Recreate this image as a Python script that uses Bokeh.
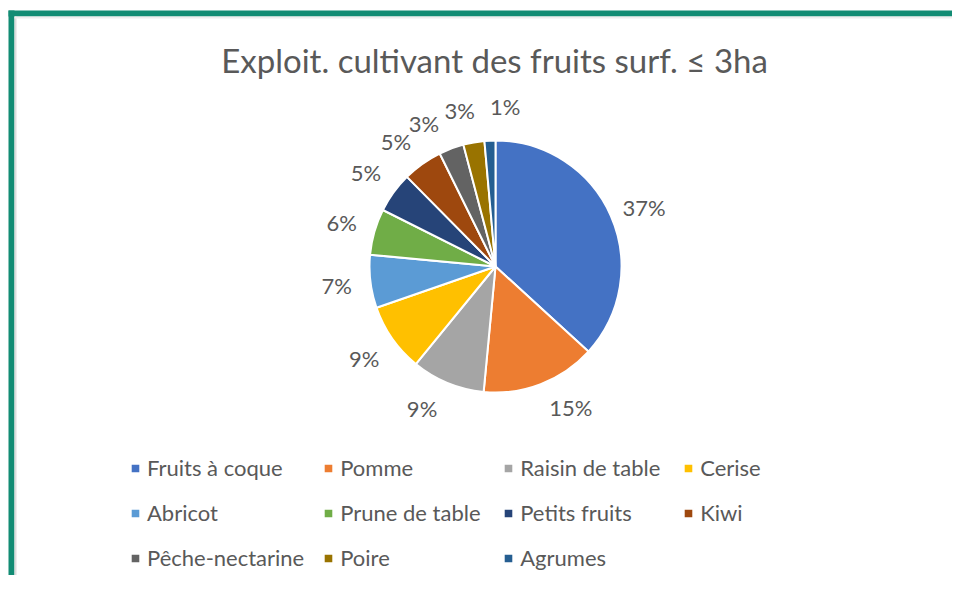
import math
from bokeh.plotting import figure
from bokeh.models import ColumnDataSource, Range1d, Legend, LegendItem, Label, BoxAnnotation
from bokeh.core.properties import value
from bokeh.embed import file_html
from bokeh.resources import INLINE

# ---- data ----
title_text = "Exploit. cultivant des fruits surf. ≤ 3ha"
categories = ["Fruits à coque", "Pomme", "Raisin de table", "Cerise",
              "Abricot", "Prune de table", "Petits fruits", "Kiwi",
              "Pêche-nectarine", "Poire", "Agrumes"]
shares = [36.8, 14.7, 9.4, 8.8, 6.8, 5.9, 5.2, 5.1, 3.2, 2.7, 1.4]
colors = ["#4472C4", "#ED7D31", "#A5A5A5", "#FFC000", "#5B9BD5", "#70AD47",
          "#264478", "#9E480E", "#636363", "#997300", "#255E91"]

# ---- layout (screen-pixel data space) ----
W, H = 952, 575
FONT = "Lato"
TXT = "#595959"
cx, cy, r = 495, 309, 126
label_r = 160
label_nudge_deg = [2, -7, 5, 0, 0, 0, 0, -3, -6, -3, 6]

total = sum(shares)
starts, ends, lx, ly, ltxt = [], [], [], [], []
cum = 0.0
for s, nd in zip(shares, label_nudge_deg):
    a0 = cum / total * 2 * math.pi
    a1 = (cum + s) / total * 2 * math.pi
    starts.append(math.pi / 2 - a0)
    ends.append(math.pi / 2 - a1)
    mid = (a0 + a1) / 2 + math.radians(nd)
    lx.append(cx + label_r * math.sin(mid))
    ly.append(cy + label_r * math.cos(mid))
    ltxt.append(f"{round(s / total * 100)}%")
    cum += s

src = ColumnDataSource(dict(cat=categories, start=starts, end=ends, color=colors))
lsrc = ColumnDataSource(dict(x=lx, y=ly, t=ltxt))

p = figure(width=W, height=H, x_range=Range1d(0, W), y_range=Range1d(0, H),
           output_backend="svg", toolbar_location=None, min_border=0,
           x_axis_location=None, y_axis_location=None)
p.grid.visible = False
p.outline_line_color = None
p.background_fill_color = "white"
p.border_fill_color = "white"

# frame border (left + top)
TEAL = "#128C74"
p.add_layout(BoxAnnotation(left=8, right=14, bottom=0, top=H - 10, fill_color=TEAL,
                           fill_alpha=1, line_color=None))
p.add_layout(BoxAnnotation(left=8, right=W, bottom=H - 16, top=H - 10, fill_color=TEAL,
                           fill_alpha=1, line_color=None))
p.add_layout(BoxAnnotation(left=14, right=16, bottom=0, top=H - 16, fill_color="#DDDDDD",
                           fill_alpha=1, line_color=None))
p.add_layout(BoxAnnotation(left=14, right=W, bottom=H - 18, top=H - 16, fill_color="#EEEEEE",
                           fill_alpha=1, line_color=None))

wr = p.wedge(x=cx, y=cy, radius=r, start_angle="start", end_angle="end",
             direction="clock", source=src, fill_color="color",
             line_color="white", line_width=2)

p.text(x="x", y="y", text="t", source=lsrc, text_align="center", text_baseline="middle",
       text_font=value(FONT), text_font_size="22px", text_color=TXT)

p.add_layout(Label(x=494, y=516, text=title_text, text_align="center",
                   text_baseline="middle", text_font=FONT,
                   text_font_size="33px", text_color=TXT))

items = [LegendItem(label=c, renderers=[wr], index=i) for i, c in enumerate(categories)]
legend = Legend(items=items, ncols=4, orientation="horizontal", location=(129, 4),
                glyph_width=12, glyph_height=12, label_standoff=6,
                label_text_font=FONT, label_text_font_size="22px",
                label_text_color=TXT, label_height=22, label_width=144, spacing=18,
                padding=0, margin=0, border_line_color=None,
                background_fill_alpha=0)
p.add_layout(legend, "center")

open("out.html", "w").write(file_html(p, INLINE))
